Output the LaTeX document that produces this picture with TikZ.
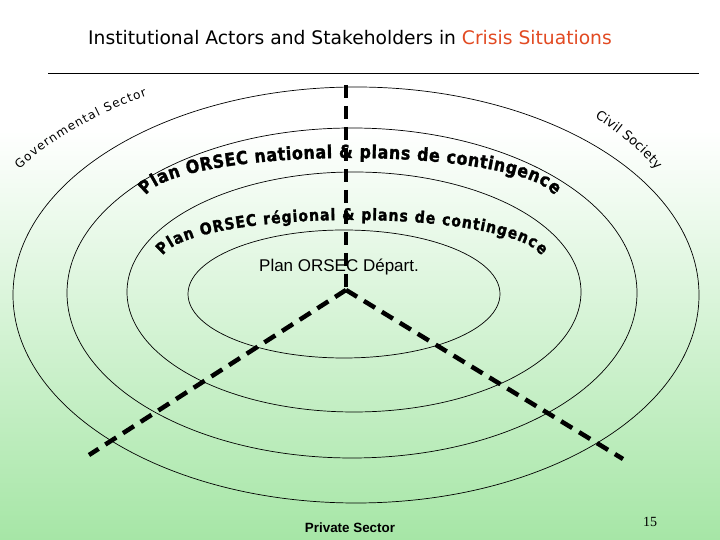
\documentclass[tikz,border=0pt]{standalone}
\usepackage{fontspec}
\setmainfont{Liberation Sans}
\newfontfamily\wordfont{DejaVu Sans}
\newfontfamily\heavyfont{DejaVu Sans}[FakeStretch=0.88,BoldFeatures={FakeBold=1.5}]
\newfontfamily\pagefont{Liberation Serif}
\usetikzlibrary{decorations.text}
\definecolor{corange}{RGB}{226,74,34}
\definecolor{cgreen}{RGB}{166,230,166}
\tikzset{
  ring/.style={line width=0.7pt},
  divider/.style={line width=4.5pt,dash pattern=on 13pt off 8pt},
  arctext/.style={decorate,decoration={text along path,text align=fit to path,text={#1}}}
}

\begin{document}
\begin{tikzpicture}[x=1pt,y=1pt]
    \useasboundingbox (0,0) rectangle (720,540);
    \fill[white] (0,0) rectangle (720,540);
    \shade[top color=white,bottom color=cgreen] (0,0) rectangle (720,410);
    \draw[line width=1pt] (48,466) -- (699,466);
    \draw[ring] (356,245) ellipse [x radius=343,y radius=208];
    \draw[ring] (352,247) ellipse [x radius=285,y radius=165];
    \draw[ring] (354,248) ellipse [x radius=227,y radius=120];
    \draw[ring] (344,246) ellipse [x radius=156,y radius=64];
    \coordinate (apex) at (346,250);
    \coordinate (top) at (346,455);
    \coordinate (left) at (89,85);
    \coordinate (right) at (623,81);
    \draw[divider] (top) -- (apex);
    \draw[divider] (apex) -- (left);
    \draw[divider] (apex) -- (right);
    \node[font=\wordfont\fontsize{18.7}{18.7}\selectfont,anchor=base] (title) at (350,495)
      {Institutional Actors and Stakeholders in \textcolor{corange}{Crisis Situations}};
    \path[arctext={|\wordfont\fontsize{12}{12}\selectfont|Governmental Sector}]
      (355,245) ++(147.5:398 and 234) arc[start angle=147.5,end angle=121.5,x radius=398,y radius=234];
    \path[arctext={|\wordfont\fontsize{13}{13}\selectfont|Civil Society}]
      (354,245) ++(47:353 and 243) arc[start angle=47,end angle=31,x radius=353,y radius=243];
    \path[arctext={|\heavyfont\bfseries\fontsize{18}{18}\selectfont|Plan ORSEC national {\&} plans de contingence}]
      (350,340) ++(174:205 and 42) arc[start angle=174,end angle=6,x radius=205,y radius=42];
    \path[arctext={|\heavyfont\bfseries\fontsize{16}{16}\selectfont|Plan ORSEC r{é}gional {\&} plans de contingence}]
      (352,280) ++(174:190 and 40) arc[start angle=174,end angle=6,x radius=190,y radius=40];
    \node[font=\fontsize{17}{17}\selectfont,anchor=base] (dept) at (339,268) {Plan ORSEC Départ.};
    \node[font=\bfseries\fontsize{13.4}{14}\selectfont,anchor=base] (private) at (350,7) {Private Sector};
    \node[font=\pagefont\fontsize{14}{14}\selectfont] (page) at (650,18) {15};
\end{tikzpicture}
\end{document}
